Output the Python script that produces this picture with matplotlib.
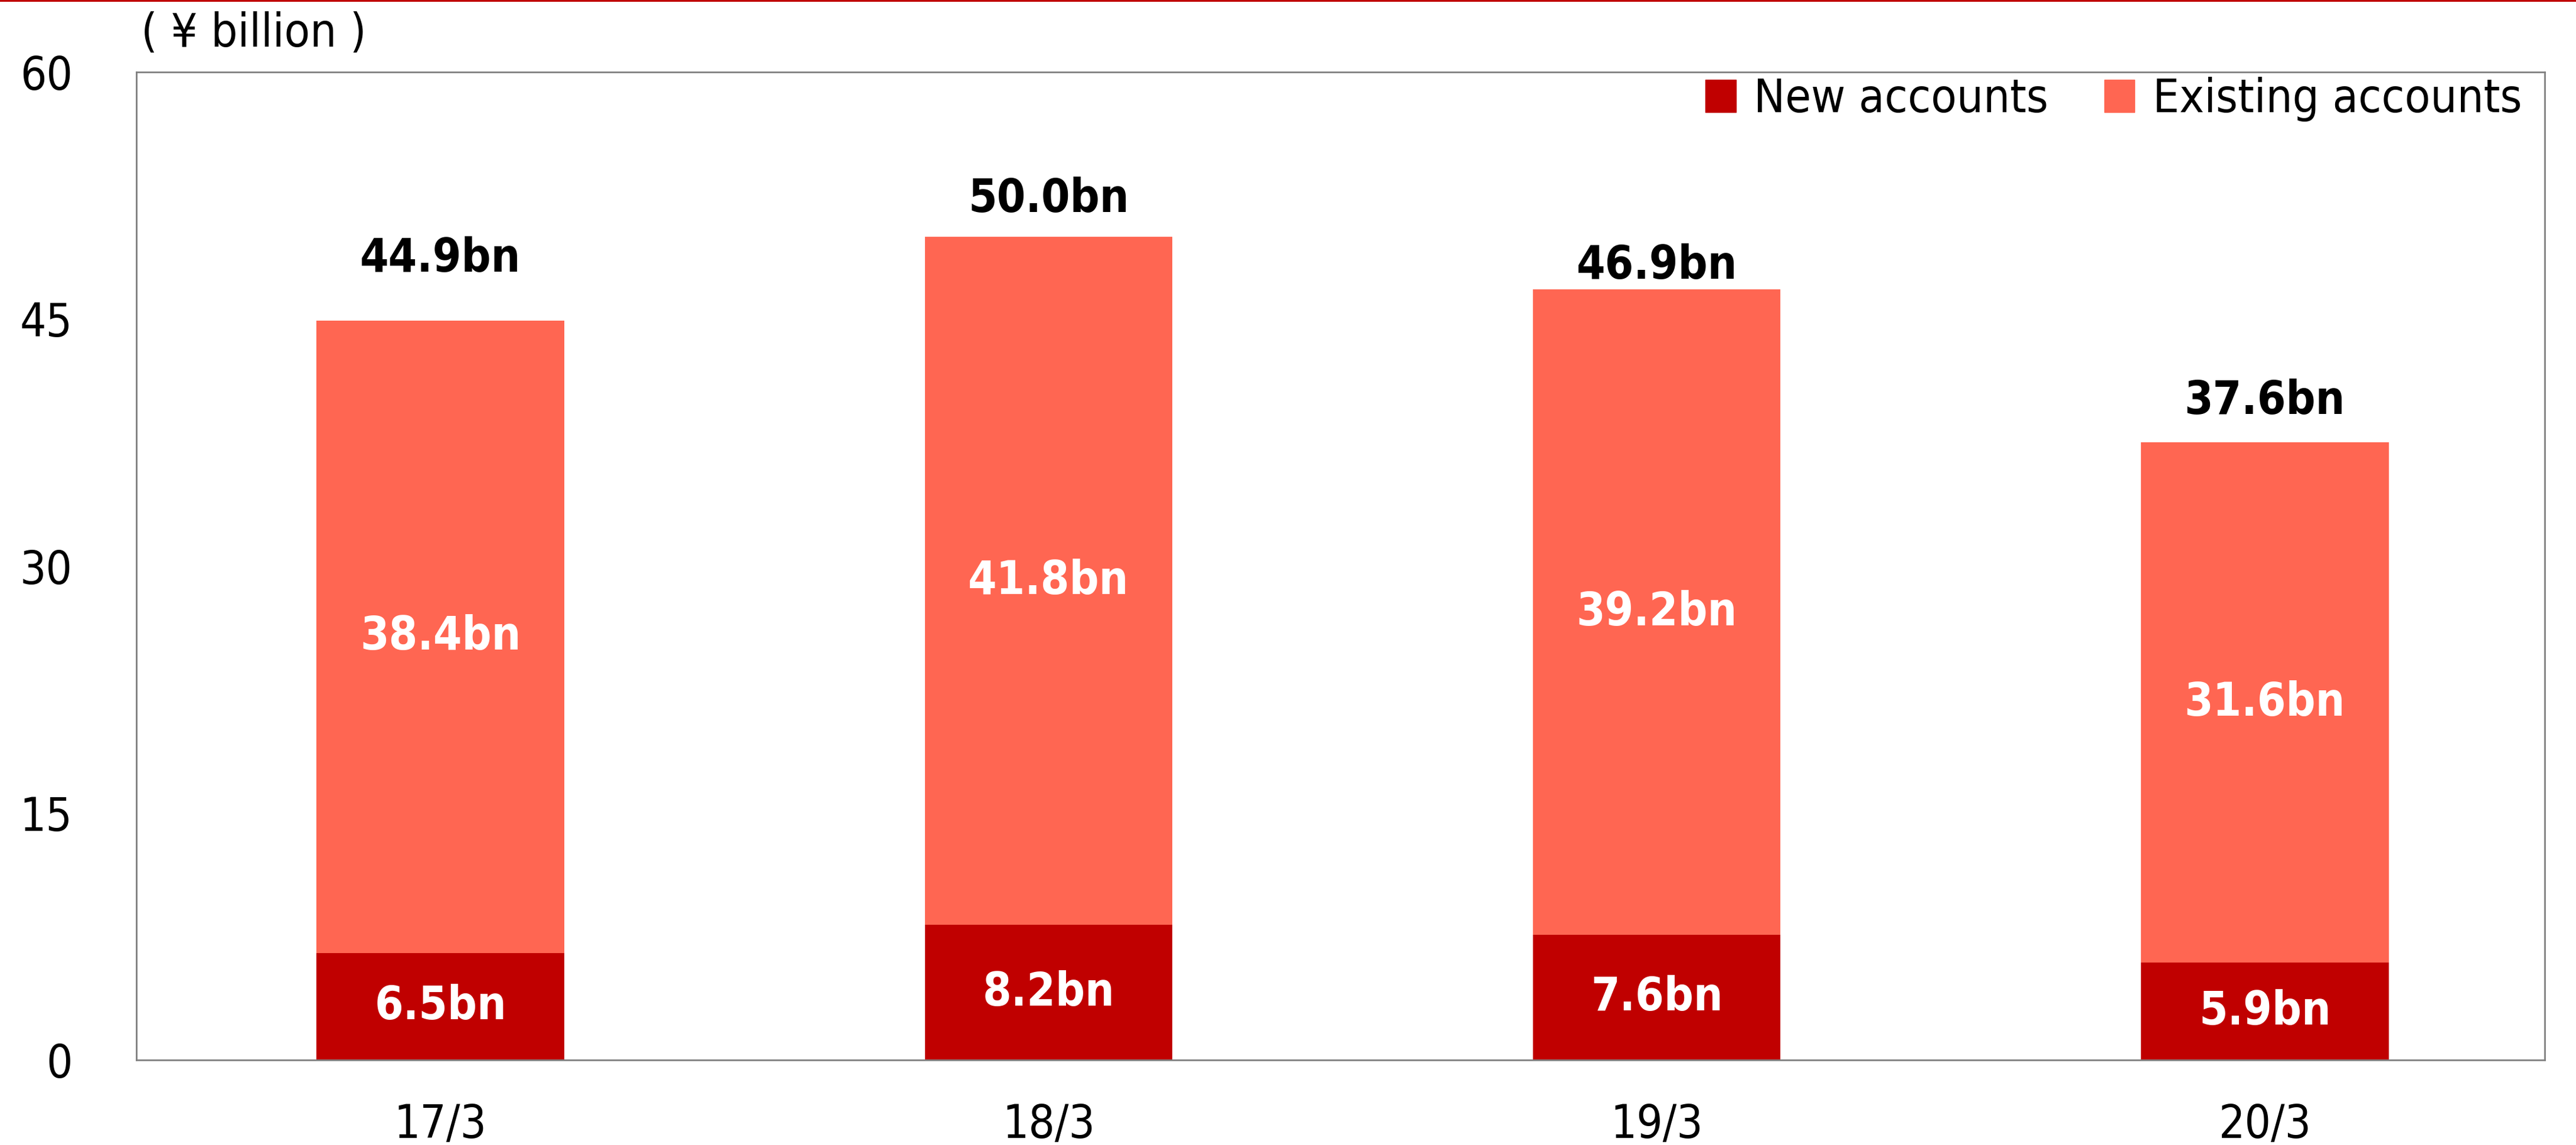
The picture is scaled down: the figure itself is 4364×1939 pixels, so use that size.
import numpy as np
import matplotlib.pyplot as plt
from matplotlib.patches import Patch
from matplotlib.lines import Line2D

# fiscal year ends and account amounts (¥ billion)
years = ['17/3', '18/3', '19/3', '20/3']
new_accounts = [6.5, 8.2, 7.6, 5.9]
existing_accounts = [38.4, 41.8, 39.2, 31.6]
totals = [44.9, 50.0, 46.9, 37.6]
y_ticks = [0, 15, 30, 45, 60]

# gap (points) between each bar top and the baseline of its total label
total_gap = [60, 30, 13, 35]

NEW_COLOR = '#C00000'
EXIST_COLOR = '#FF6652'
REG = dict(family='DejaVu Sans', fontstretch='condensed')
BOLD = dict(family='DejaVu Sans', fontstretch='condensed', fontweight='bold', fontsize=56)


def main():
    fig = plt.figure(figsize=(43.64, 19.39), dpi=100)
    ax = fig.add_axes([231 / 4364, 144 / 1939, 4080 / 4364, 1673 / 1939])

    x = np.arange(len(years))
    w = 0.407
    ax.bar(x, new_accounts, w, color=NEW_COLOR, zorder=2)
    ax.bar(x, existing_accounts, w, bottom=new_accounts, color=EXIST_COLOR, zorder=2)

    for i in range(len(years)):
        ax.text(x[i], new_accounts[i] / 2, f'{new_accounts[i]:.1f}bn', ha='center', va='center',
                color='white', zorder=3, **BOLD)
        mid = new_accounts[i] + existing_accounts[i] / 2
        ax.text(x[i], mid, f'{existing_accounts[i]:.1f}bn', ha='center', va='center',
                color='white', zorder=3, **BOLD)
        top = new_accounts[i] + existing_accounts[i]
        ax.annotate(f'{totals[i]:.1f}bn', (x[i], top), xytext=(0, total_gap[i]),
                    textcoords='offset points', ha='center', va='baseline', color='black', **BOLD)

    ax.set_xlim(-0.5, len(years) - 0.54)
    ax.set_ylim(0, 60)
    ax.set_xticks(x)
    ax.set_xticklabels(years, **REG)
    ax.set_yticks(y_ticks)
    ax.set_yticklabels([str(v) for v in y_ticks], **REG)
    ax.tick_params(axis='both', length=0, labelsize=56)
    ax.tick_params(axis='x', pad=52)
    ax.tick_params(axis='y', pad=78)
    for s in ax.spines.values():
        s.set_color('#808080')
        s.set_linewidth(2)

    handles = [Patch(color=NEW_COLOR), Patch(color=EXIST_COLOR)]
    ax.legend(handles, ['New accounts', 'Existing accounts'], ncol=2, loc='upper right',
              frameon=False, prop=dict(size=57, family='DejaVu Sans', stretch='condensed'),
              handlelength=0.65, handleheight=0.7, borderpad=0,
              handletextpad=0.38, columnspacing=1.2, borderaxespad=0.1,
              bbox_to_anchor=(0.9924, 1.0))

    fig.text(239 / 4364, 1 - 79 / 1939, '( ¥ billion )', ha='left', va='baseline',
             fontsize=57, **REG)

    # red rule across the top edge
    fig.add_artist(Line2D([0, 1], [0.9993, 0.9993], transform=fig.transFigure,
                          color=NEW_COLOR, linewidth=2.2))

    fig.savefig('out.png', dpi=100)


if __name__ == '__main__':
    main()
